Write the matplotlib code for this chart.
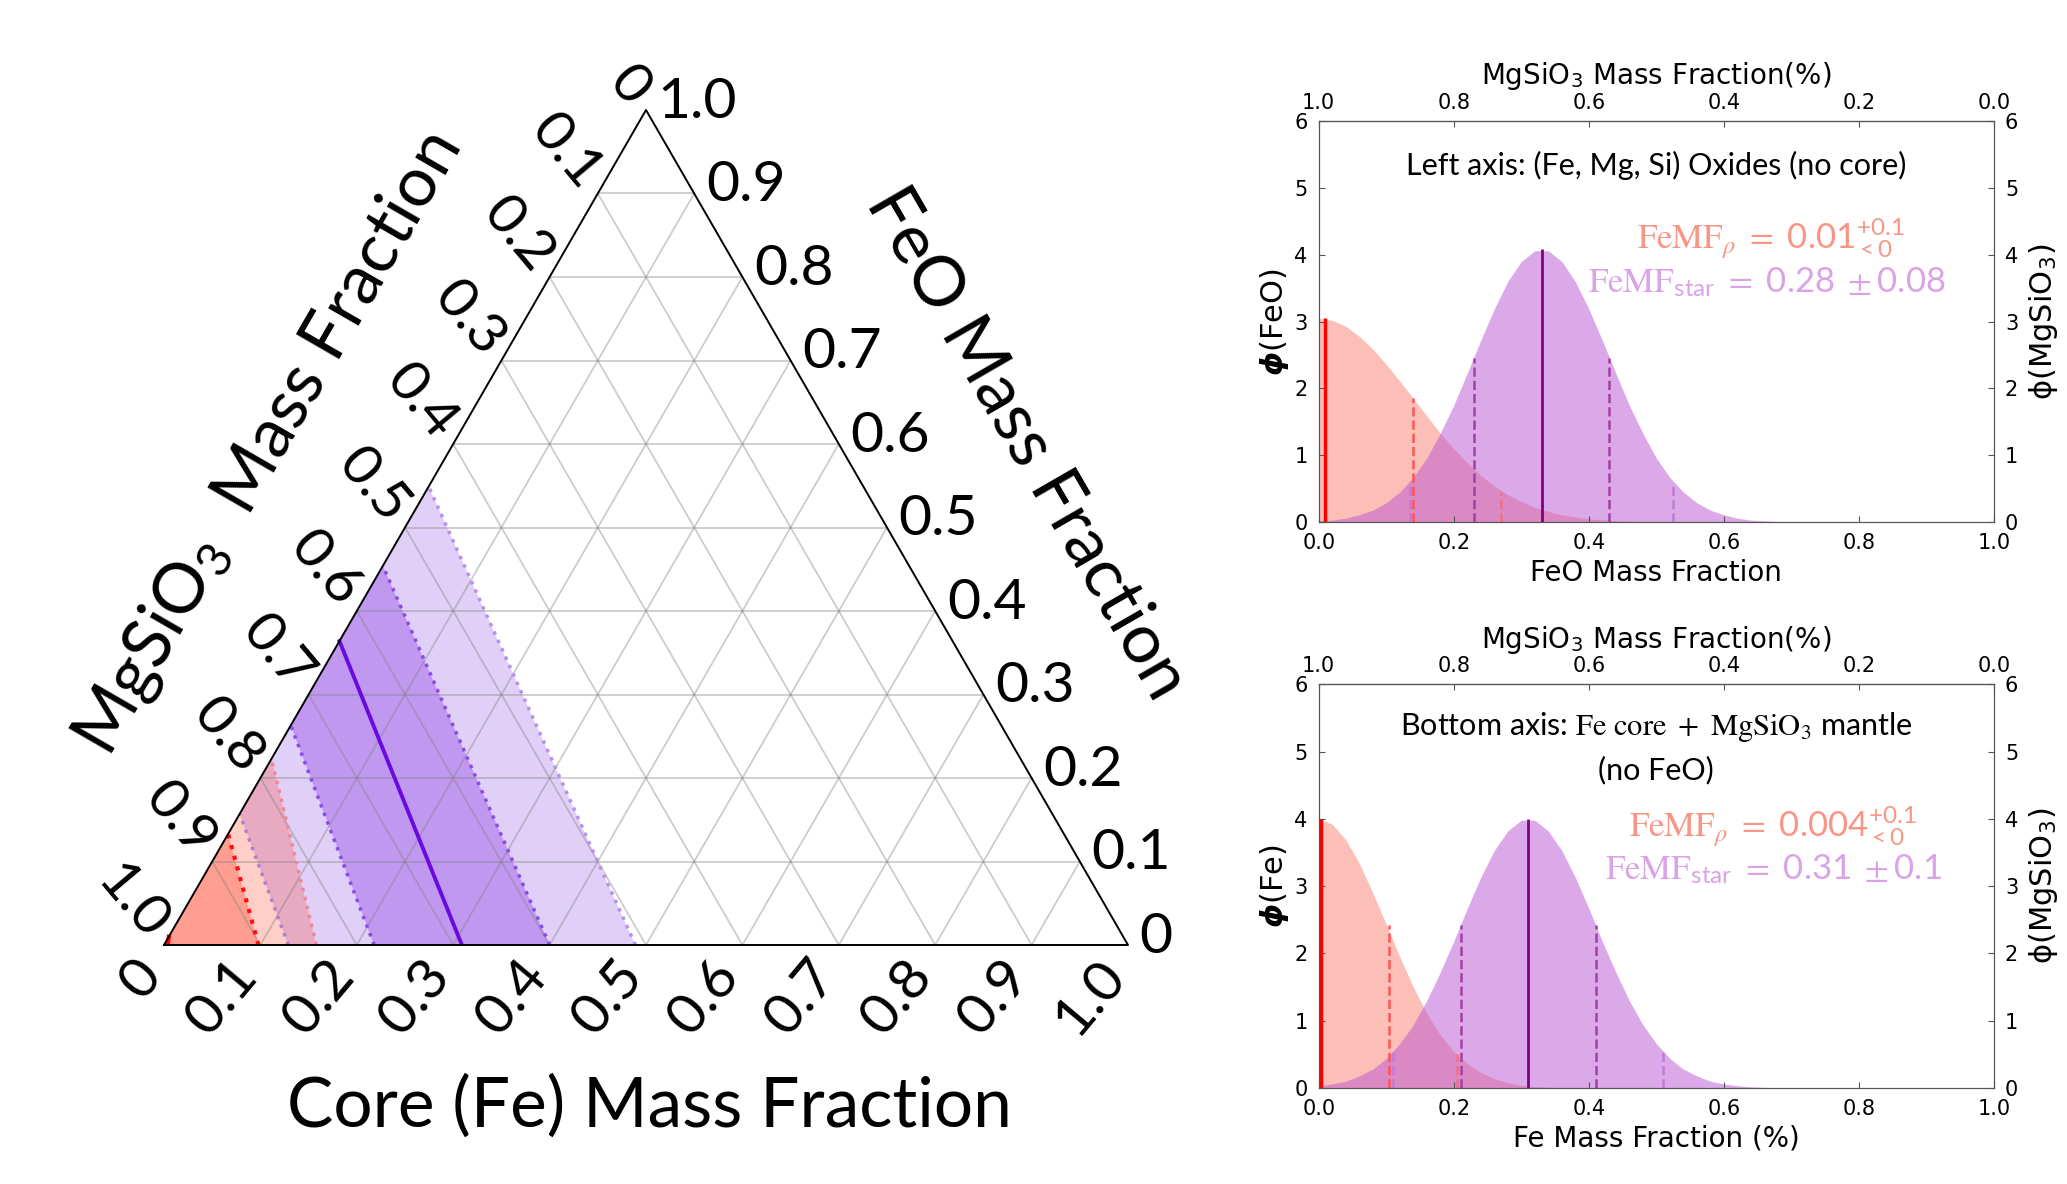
import numpy as np
import matplotlib.pyplot as plt

plt.rcParams['font.family'] = ['DejaVu Sans']
plt.rcParams['mathtext.fontset'] = 'custom'
plt.rcParams['mathtext.rm'] = 'STIXGeneral'
plt.rcParams['mathtext.it'] = 'STIXGeneral:italic'
plt.rcParams['mathtext.sf'] = 'Lato'
plt.rcParams['mathtext.bfit'] = 'DejaVu Sans:italic:bold'

# ---------------- ternary diagram ----------------
# bands are given by where they cut the bottom edge (Fe) and the left edge (FeO)
star_mid = (0.309, 0.364)
star_1sig_bottom = (0.218, 0.400)
star_1sig_left = (0.263, 0.454)
star_2sig_bottom = (0.129, 0.489)
star_2sig_left = (0.157, 0.549)
rho_mid = (0.004, 0.010)
rho_1sig = (0.098, 0.133)
rho_2sig = (0.158, 0.223)

tern_ticks = [0.0, 0.1, 0.2, 0.3, 0.4, 0.5, 0.6, 0.7, 0.8, 0.9, 1.0]
tern_labels = ['0', '0.1', '0.2', '0.3', '0.4', '0.5', '0.6', '0.7', '0.8', '0.9', '1.0']

# ---------------- distribution panels ----------------
frac_x = [0.00, 0.02, 0.04, 0.06, 0.08, 0.10, 0.12, 0.14, 0.16, 0.18, 0.20, 0.22, 0.24,
          0.26, 0.28, 0.30, 0.32, 0.34, 0.36, 0.38, 0.40, 0.42, 0.44, 0.46, 0.48, 0.50,
          0.52, 0.54, 0.56, 0.58, 0.60, 0.62, 0.64, 0.66, 0.68, 0.70, 1.00]

# top panel: FeO mass fraction
feo_rho = [3.05, 3.02, 2.93, 2.78, 2.59, 2.36, 2.11, 1.85, 1.59, 1.33, 1.10, 0.89, 0.70,
           0.54, 0.41, 0.31, 0.22, 0.16, 0.11, 0.08, 0.05, 0.035, 0.022, 0.014, 0.008, 0.005,
           0.003, 0.0, 0.0, 0.0, 0.0, 0.0, 0.0, 0.0, 0.0, 0.0, 0.0]
feo_star = [0.02, 0.03, 0.06, 0.11, 0.18, 0.29, 0.45, 0.67, 0.96, 1.33, 1.75, 2.23, 2.72,
            3.19, 3.60, 3.90, 4.06, 4.06, 3.90, 3.60, 3.19, 2.72, 2.23, 1.75, 1.33, 0.96,
            0.67, 0.45, 0.29, 0.18, 0.11, 0.06, 0.03, 0.02, 0.01, 0.004, 0.0]
feo_rho_lines_x = [0.01, 0.14, 0.27]
feo_rho_lines_h = [3.05, 1.85, 0.43]
feo_star_lines_x = [0.33, 0.23, 0.43, 0.135, 0.525]
feo_star_lines_h = [4.08, 2.45, 2.45, 0.55, 0.55]

# bottom panel: Fe mass fraction
fe_rho = [4.00, 3.92, 3.69, 3.34, 2.90, 2.43, 1.95, 1.50, 1.11, 0.79, 0.54, 0.36, 0.23,
          0.14, 0.08, 0.04, 0.02, 0.01, 0.0, 0.0, 0.0, 0.0, 0.0, 0.0, 0.0, 0.0,
          0.0, 0.0, 0.0, 0.0, 0.0, 0.0, 0.0, 0.0, 0.0, 0.0, 0.0]
fe_star = [0.033, 0.06, 0.10, 0.18, 0.28, 0.44, 0.66, 0.94, 1.30, 1.72, 2.18, 2.67, 3.13,
           3.53, 3.82, 3.98, 3.98, 3.82, 3.53, 3.13, 2.67, 2.18, 1.72, 1.30, 0.94, 0.66,
           0.44, 0.28, 0.18, 0.10, 0.06, 0.033, 0.017, 0.009, 0.004, 0.002, 0.0]
fe_rho_lines_x = [0.004, 0.104, 0.205]
fe_rho_lines_h = [4.00, 2.42, 0.50]
fe_star_lines_x = [0.31, 0.21, 0.41, 0.11, 0.51]
fe_star_lines_h = [4.00, 2.42, 2.42, 0.54, 0.54]

x_ticks = [0.0, 0.2, 0.4, 0.6, 0.8, 1.0]
y_ticks = [0, 1, 2, 3, 4, 5, 6]

S = np.sqrt(3) / 2


def tern(fe, feo):
    fe = np.asarray(fe, float)
    feo = np.asarray(feo, float)
    return fe + 0.5 * feo, S * feo


def band(ax, bottom, left, **kw):
    xs, ys = tern([bottom[0], bottom[1], 0, 0], [0, 0, left[1], left[0]])
    ax.fill(xs, ys, lw=0, **kw)


def edge_line(ax, b, l, **kw):
    xs, ys = tern([b, 0], [0, l])
    ax.plot(xs, ys, **kw)


fig = plt.figure(figsize=(20.67, 11.84), dpi=100)

# ---------------- ternary ----------------
axt = fig.add_axes([164 / 2067, 1 - 945 / 1184, 964 / 2067, 835 / 1184])
axt.set_xlim(0, 1)
axt.set_ylim(0, S)
axt.axis('off')

band(axt, star_2sig_bottom, star_2sig_left, color='#E0D0F8')
band(axt, star_1sig_bottom, star_1sig_left, color='#C198F0')
band(axt, (0, rho_2sig[0]), (0, rho_2sig[1]), color='#FF3214', alpha=0.24)
band(axt, (0, rho_1sig[0]), (0, rho_1sig[1]), color='#FF3214', alpha=0.30)

# grid
for v in tern_ticks[1:-1]:
    xs, ys = tern([0, 1 - v], [v, v])
    axt.plot(xs, ys, color='grey', alpha=0.4, lw=1.3)
    xs, ys = tern([v, v], [0, 1 - v])
    axt.plot(xs, ys, color='grey', alpha=0.4, lw=1.3)
    xs, ys = tern([1 - v, 0], [0, 1 - v])
    axt.plot(xs, ys, color='grey', alpha=0.4, lw=1.3)

edge_line(axt, star_2sig_bottom[1], star_2sig_left[1], color='#B890EE', lw=2.5, ls=':')
edge_line(axt, star_2sig_bottom[0], star_2sig_left[0], color='#B080D0', lw=2.5, ls=':')
edge_line(axt, star_1sig_bottom[0], star_1sig_left[0], color='#8A4CE8', lw=2.5, ls=':')
edge_line(axt, star_1sig_bottom[1], star_1sig_left[1], color='#8A4CE8', lw=2.5, ls=':')
edge_line(axt, star_mid[0], star_mid[1], color='#6A0AE0', lw=2.8)
edge_line(axt, rho_2sig[0], rho_2sig[1], color='#F08898', lw=2.5, ls=':')
edge_line(axt, rho_1sig[0], rho_1sig[1], color='#FF1010', lw=3, ls=':')
edge_line(axt, rho_mid[0], rho_mid[1], color='red', lw=3)

xs, ys = tern([0, 1, 0, 0], [0, 0, 1, 0])
axt.plot(xs, ys, color='black', lw=1.4, clip_on=False)

tfont = dict(family='Lato', fontsize=41)
for v, lab in zip(tern_ticks, tern_labels):
    # bottom axis: Fe
    x, y = tern(v, 0)
    d = 0.026
    axt.text(x - 0.5 * d, y - S * d, lab, rotation=50, rotation_mode='anchor',
             ha='right', va='center', **tfont)
    # left axis: MgSiO3 (FeO = 1 - v on the left edge)
    x, y = tern(0, 1 - v)
    d = 0.014
    axt.text(x - 0.5 * d, y + S * d, lab, rotation=-50, rotation_mode='anchor',
             ha='right', va='center', **tfont)
    # right axis: FeO
    x, y = tern(1 - v, v)
    axt.text(x + 0.012, y + 0.008, lab, ha='left', va='center', **tfont)

axt.text(0.504, -0.167, 'Core (Fe) Mass Fraction', ha='center', va='center',
         family='Lato', fontsize=50)
axt.text(0.108, 0.52, r'MgSiO$_\mathsf{3}$  Mass Fraction', ha='center', va='center',
         rotation=60, family='Lato', fontsize=50)
axt.text(0.895, 0.52, 'FeO Mass Fraction', ha='center', va='center',
         rotation=-60, family='Lato', fontsize=50)


# ---------------- distribution panels ----------------
def panel(rect, rho, star, rho_lx, rho_lh, star_lx, star_lh, xlabel, left_lab):
    ax = fig.add_axes(rect)
    ax.fill_between(frac_x, rho, color='salmon', alpha=0.5, lw=0)
    ax.fill_between(frac_x, star, color='mediumorchid', alpha=0.5, lw=0)
    ax.vlines(rho_lx, 0, rho_lh, colors=['red', '#FF5555', '#F07085'],
              linestyles=['solid', 'dashed', 'dashed'], lw=[2.5, 1.8, 1.8])
    ax.vlines(star_lx, 0, star_lh,
              colors=['purple', '#A040A8', '#A040A8', '#C27AD6', '#C27AD6'],
              linestyles=['solid', 'dashed', 'dashed', 'dashed', 'dashed'],
              lw=[2, 1.8, 1.8, 1.8, 1.8])
    ax.set_xlim(0, 1)
    ax.set_ylim(0, 6)
    ax.set_xticks(x_ticks)
    ax.set_yticks(y_ticks)
    ax.tick_params(direction='in', labelsize=15, pad=8, length=4, color='#555555')
    ax.set_xlabel(xlabel, fontsize=20, labelpad=4)
    ax.set_ylabel(left_lab, fontsize=22, labelpad=2)
    for sp in ax.spines.values():
        sp.set_color('#555555')

    top = ax.secondary_xaxis('top', functions=(lambda x: 1 - x, lambda x: 1 - x))
    top.set_xticks(x_ticks)
    top.tick_params(direction='in', labelsize=15, pad=6, length=4, color='#555555')
    top.set_xlabel(r'MgSiO$_\mathregular{3}$ Mass Fraction(%)', fontsize=20, labelpad=6)

    axr = ax.twinx()
    axr.set_ylim(0, 6)
    axr.set_yticks(y_ticks)
    axr.tick_params(direction='in', labelsize=15, pad=8, length=4, color='#555555')
    axr.set_ylabel('ϕ(MgSiO$_\\mathregular{3}$)', fontsize=22, labelpad=6)
    for sp in axr.spines.values():
        sp.set_color('#555555')
    return ax


ax1 = panel([0.638, 0.559, 0.3266, 0.3387], feo_rho, feo_star,
            feo_rho_lines_x, feo_rho_lines_h, feo_star_lines_x, feo_star_lines_h,
            'FeO Mass Fraction', r'$\boldsymbol{\phi}$(FeO)')
ax1.text(0.5, 5.33, 'Left axis: (Fe, Mg, Si) Oxides (no core)', ha='center', va='center',
         family='Lato', fontsize=22)
ax1.text(0.868, 4.24, r'$\mathrm{FeMF}_{\rho}\ =\ \mathsf{0.01}^{\mathsf{+0.1}}_{\mathsf{<0}}$',
         ha='right', va='center', color='#F99584', fontsize=25)
ax1.text(0.929, 3.59, r'$\mathrm{FeMF}_{\mathsf{star}}\ =\ \mathsf{0.28}\ \pm\mathsf{0.08}$',
         ha='right', va='center', color='#D9A3E6', fontsize=25)

ax2 = panel([0.638, 0.0811, 0.3266, 0.341], fe_rho, fe_star,
            fe_rho_lines_x, fe_rho_lines_h, fe_star_lines_x, fe_star_lines_h,
            'Fe Mass Fraction (%)', r'$\boldsymbol{\phi}$(Fe)')
ax2.text(0.5, 5.07, 'Bottom axis: $\\mathrm{Fe\\ core\\ +\\ MgSiO_3}$ mantle\n(no FeO)',
         ha='center', va='center', family='Lato', fontsize=22, linespacing=1.5)
ax2.text(0.886, 3.88, r'$\mathrm{FeMF}_{\rho}\ =\ \mathsf{0.004}^{\mathsf{+0.1}}_{\mathsf{<0}}$',
         ha='right', va='center', color='#F99584', fontsize=25)
ax2.text(0.923, 3.25, r'$\mathrm{FeMF}_{\mathsf{star}}\ =\ \mathsf{0.31}\ \pm\mathsf{0.1}$',
         ha='right', va='center', color='#D9A3E6', fontsize=25)

fig.savefig('out.png', dpi=100)
